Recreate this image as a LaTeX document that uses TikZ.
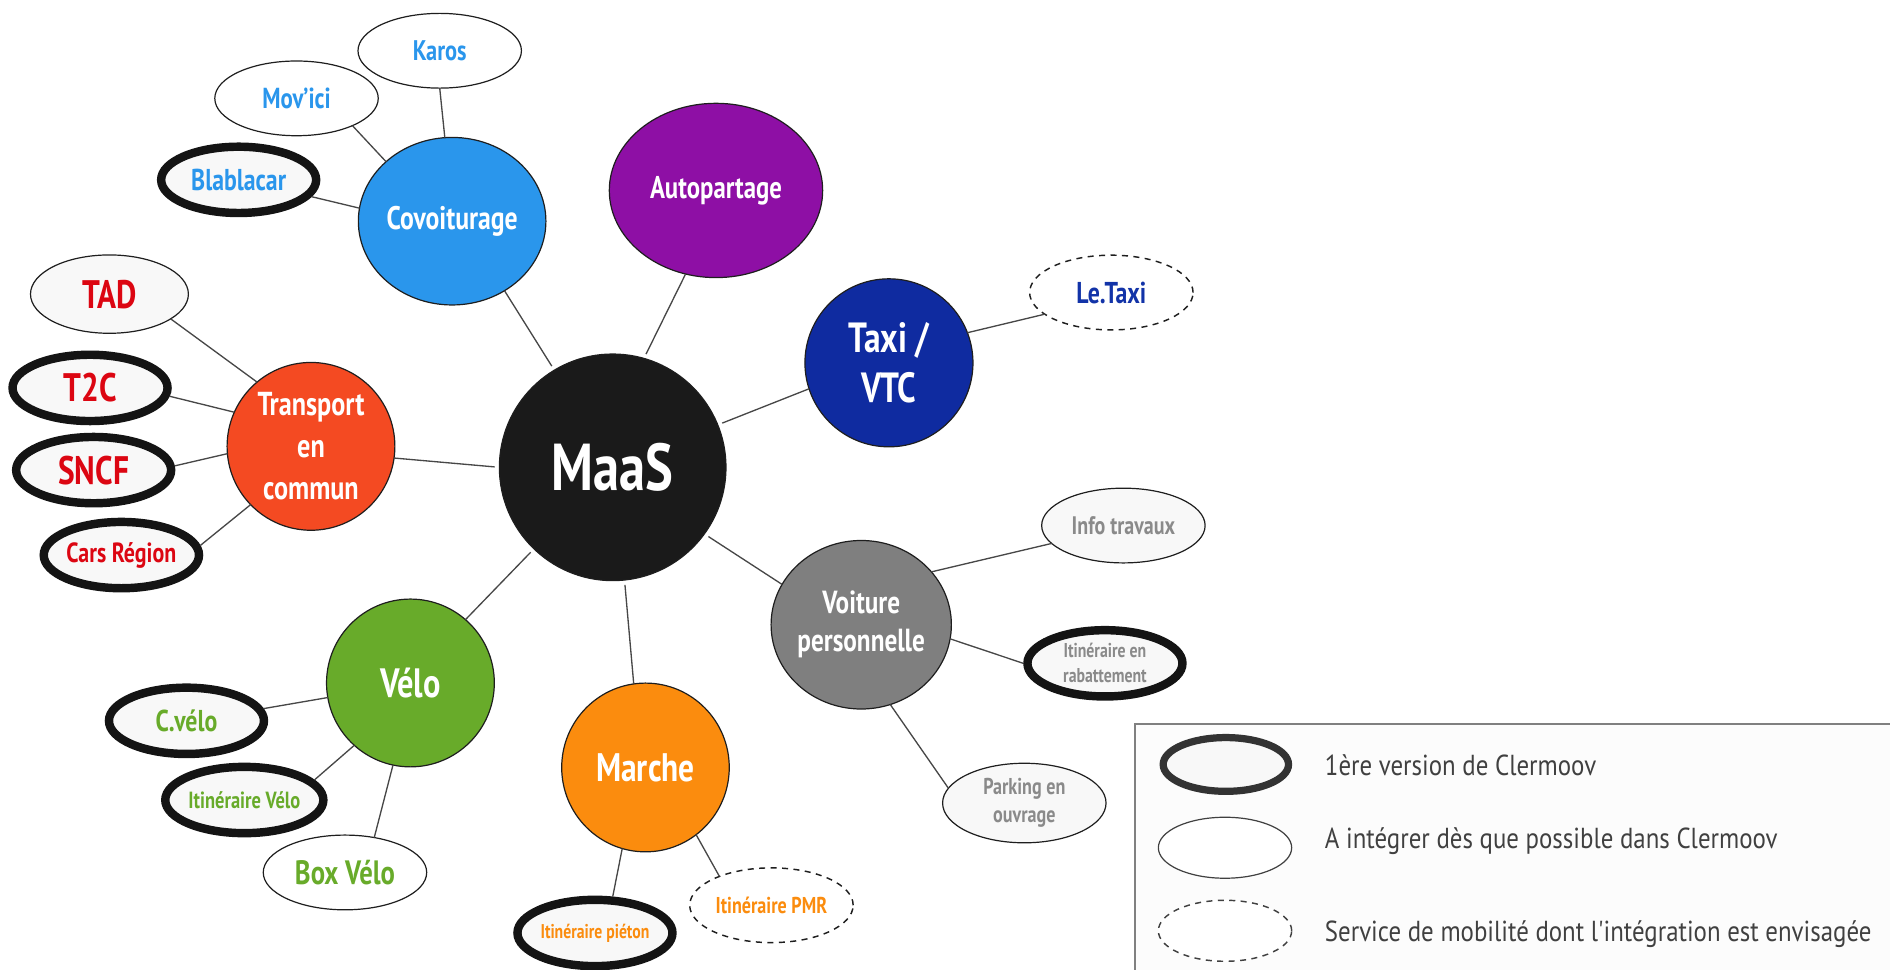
\documentclass[tikz,border=0pt]{standalone}
\usepackage{fontspec}
\setmainfont{PT Sans}[FakeStretch=0.79]
\newfontfamily\legfont{PT Sans}[FakeStretch=0.86]
\usetikzlibrary{shapes.geometric}
\definecolor{cmaas}{HTML}{1A1A1A}
\definecolor{ccov}{HTML}{2A96EC}
\definecolor{caut}{HTML}{8E0FA5}
\definecolor{ctax}{HTML}{0F2BA0}
\definecolor{ctra}{HTML}{F44A22}
\definecolor{cvoi}{HTML}{7F7F7F}
\definecolor{cmar}{HTML}{FB8C0E}
\definecolor{cvel}{HTML}{68AB2A}
\definecolor{cred}{HTML}{DC0612}
\definecolor{cgry}{HTML}{8A8A8A}
\definecolor{cblu}{HTML}{1233A8}
\definecolor{csoft}{HTML}{F8F8F8}
\definecolor{cedge}{HTML}{1E1E1E}
\newcommand{\fnt}[2]{\fontsize{#1}{#2}\selectfont\bfseries}
\tikzset{
  bub/.style={ellipse,inner sep=0pt,outer sep=0pt,align=center,draw=cedge},
  hub/.style={bub,line width=1pt,text=white},
  leaf/.style={bub,line width=1pt,fill=csoft,minimum width=135.6pt,minimum height=62pt},
  firstv/.style={bub,line width=7pt,outer sep=3.5pt,fill=csoft,draw=black!92,minimum width=128.6pt,minimum height=55pt},
  maybe/.style={bub,line width=1.2pt,dash pattern=on 5pt off 4.5pt,fill=white,minimum width=135.6pt,minimum height=62pt},
  link/.style={draw=black!72,line width=1.1pt},
  fromhub/.style={link,shorten <=4pt},
  legtext/.style={anchor=base west,inner sep=0pt,font=\legfont\fontsize{24}{28}\selectfont,text=black!75},
}
\begin{document}
\begin{tikzpicture}[x=1pt,y=-1pt]
\useasboundingbox (0,0) rectangle (1568,804);
% legend
\node[draw=black!50,line width=2.2pt,fill=white!99!black,inner sep=0pt,outer sep=0pt,minimum width=640pt,minimum height=220pt,anchor=north west] (legend) at (941.6,600.6) {};
\node[firstv,line width=6pt,outer sep=3pt,draw=black!80,minimum width=104pt,minimum height=44.6pt] (lega) at (1017,634.2) {};
\node[leaf,fill=white,draw=black!75,minimum width=110.6pt,minimum height=50.6pt] (legb) at (1016.3,703.3) {};
\node[maybe,draw=black!75,minimum width=110.6pt,minimum height=50.6pt] (legc) at (1016.3,772.2) {};
\node[legtext] (lta) at (1099,643) {1ère version de Clermoov};
\node[legtext] (ltb) at (1099,703.6) {A intégrer dès que possible dans Clermoov};
\node[legtext] (ltc) at (1099,781) {Service de mobilité dont l'intégration est envisagée};
% hubs
\node[hub,fill=cmaas,minimum width=188pt,minimum height=188pt,font=\fnt{55}{66}] (maas) at (508.3,387.7) {MaaS};
\node[hub,fill=ccov,minimum width=155.6pt,minimum height=139pt,font=\fnt{27}{30}] (cov) at (375.1,183.5) {Covoiturage};
\node[hub,fill=caut,minimum width=177pt,minimum height=144.6pt,font=\fnt{26}{30}] (aut) at (594,158) {Autopartage};
\node[hub,fill=ctax,minimum width=139.4pt,minimum height=139.4pt,font=\fnt{35}{41}] (tax) at (737.5,301) {Taxi /\\VTC};
\node[hub,fill=ctra,minimum width=139.2pt,minimum height=139.2pt,font=\fnt{27.5}{35}] (tra) at (258,370.3) {Transport\\en\\commun};
\node[hub,fill=cvoi,minimum width=147.2pt,minimum height=139.8pt,font=\fnt{26.5}{31.5}] (voi) at (714.5,518.3) {Voiture\\personnelle};
\node[hub,fill=cmar,minimum width=139pt,minimum height=140pt,font=\fnt{33}{40}] (mar) at (535.5,636.7) {Marche};
\node[hub,fill=cvel,minimum width=139.2pt,minimum height=139.2pt,font=\fnt{34}{40}] (vel) at (340.5,566.6) {Vélo};
% leaves
\node[leaf,fill=white,text=ccov,font=\fnt{23.5}{26}] (kar) at (364.8,42.1) {Karos};
\node[leaf,fill=white,text=ccov,font=\fnt{24}{26}] (mov) at (246,81.6) {Mov'ici};
\node[firstv,text=ccov,font=\fnt{25}{28}] (bla) at (198,149.2) {Blablacar};
\node[leaf,minimum width=131pt,minimum height=65pt,text=cred,font=\fnt{33}{44}] (tad) at (90.8,244) {TAD};
\node[firstv,text=cred,font=\fnt{33}{44}] (t2c) at (74.7,321.8) {T2C};
\node[firstv,text=cred,font=\fnt{33}{44}] (snc) at (77.7,390) {SNCF};
\node[firstv,text=cred,font=\fnt{23}{28}] (car) at (100.7,460.5) {Cars Région};
\node[maybe,text=cblu,font=\fnt{25}{28}] (let) at (922,242.7) {Le.Taxi};
\node[leaf,text=cgry,font=\fnt{21}{24}] (inf) at (932,436) {Info travaux};
\node[firstv,text=cgry,font=\fnt{16.6}{20.7}] (rab) at (916.7,550.3) {Itinéraire en\\rabattement};
\node[leaf,minimum height=66pt,text=cgry,font=\fnt{19}{23.5}] (par) at (849.8,666.2) {Parking en\\ouvrage};
\node[maybe,text=cmar,font=\fnt{19}{22}] (pmr) at (640,751) {Itinéraire PMR};
\node[firstv,text=cmar,font=\fnt{16.5}{20}] (pie) at (493.6,774) {Itinéraire piéton};
\node[leaf,fill=white,text=cvel,font=\fnt{28}{30}] (box) at (286.2,723.8) {Box Vélo};
\node[firstv,text=cvel,font=\fnt{19.4}{22}] (iv) at (202.7,663.7) {Itinéraire Vélo};
\node[firstv,text=cvel,font=\fnt{25}{32}] (cve) at (154.7,598) {C.vélo};
% links
\draw[fromhub] (maas.121.6) -- (cov.-53.6);
\draw[fromhub] (maas.74.2) -- (aut.-110.8);
\draw[fromhub] (maas.22.7) -- (tax.198);
\draw[fromhub] (maas.180) -- (tra.-8);
\draw[fromhub] (maas.-134.8) -- (vel.49);
\draw[fromhub] (maas.-84.9) -- (mar.98.7);
\draw[fromhub] (maas.-36) -- (voi.153);
\draw[link] (cov.95) -- (kar.-90);
\draw[link] (cov.138.8) -- (mov.-26.2);
\draw[link] (cov.172.7) -- (bla.-13.5);
\draw[link] (tra.130.6) -- (tad.-22.4);
\draw[link] (tra.156) -- (t2c.-6.7);
\draw[link] (tra.185) -- (snc.3.5);
\draw[link] (tra.-136.5) -- (car.7.8);
\draw[link] (tax.21.3) -- (let.-162);
\draw[link] (voi.37.5) -- (inf.-166);
\draw[link] (voi.-9.7) -- (rab.180);
\draw[link] (voi.-70.7) -- (par.169);
\draw[link] (mar.-106.5) -- (pie.64.4);
\draw[link] (mar.-53) -- (pmr.151.6);
\draw[link] (vel.-170.6) -- (cve.9);
\draw[link] (vel.-132.7) -- (iv.16.5);
\draw[link] (vel.-102) -- (box.50);
\end{tikzpicture}
\end{document}
